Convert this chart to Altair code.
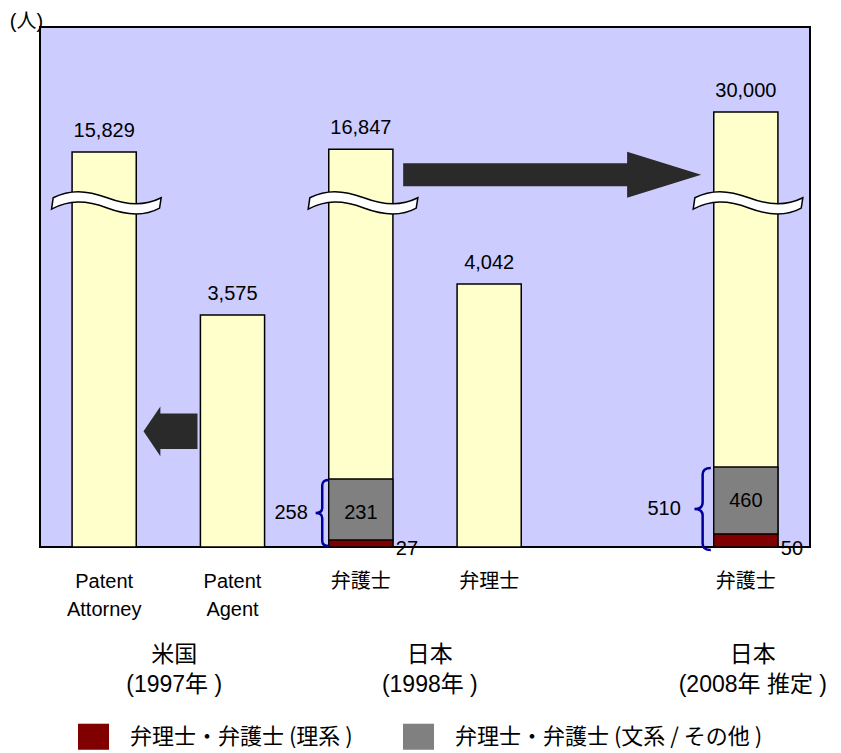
import altair as alt
import pandas as pd

# ---------------------------------------------------------------- data
# x slots (one empty slot keeps the 2008 bar apart from the 1998 pair)
slots = ["us_attorney", "us_agent", "jp98_bengoshi", "jp98_benrishi", "spacer", "jp08_bengoshi"]

bar_slots = ["us_attorney", "us_agent", "jp98_bengoshi", "jp98_benrishi", "jp08_bengoshi"]
bar_labels = ["Patent\nAttorney", "Patent\nAgent", "弁護士", "弁理士", "弁護士"]
headcounts = [15829, 3575, 16847, 4042, 30000]

# 弁護士 who are also registered as 弁理士, by background
dual_slots = ["jp98_bengoshi", "jp08_bengoshi"]
dual_science = [27, 50]
dual_humanities = [231, 460]
kinds = ["弁理士・弁護士 (理系 )", "弁理士・弁護士 (文系 / その他 )"]

broken_slots = ["us_attorney", "jp98_bengoshi", "jp08_bengoshi"]

group_titles = ["米国\n(1997年 )", "日本\n(1998年 )", "日本\n(2008年 推定 )"]
group_slots = ["us_attorney", "jp98_bengoshi", "jp08_bengoshi"]

# ---------------------------------------------------------------- styling
W, H = 770, 520
PLOT_BG = "#CCCCFF"
BAR_FILL = "#FFFFCC"
SCI_COLOR = "#800000"
HUM_COLOR = "#808080"
ARROW_COLOR = "#2a2a2a"
BRACE_COLOR = "#000099"
LATIN = "Liberation Sans, Noto Sans CJK JP"
CJK = "Noto Sans CJK JP"

# broken value axis: piecewise-linear, strongly compressed above the break
Y_STOPS = [0, 258, 510, 3575, 4042, 15829, 30000]
Y_RANGE = [520, 452, 440, 288, 257, 125, 85]
BREAK_AT = 11500

# custom symbol outlines
BREAK_SHAPE = ("M -1 -0.05 C -0.7 -0.2 -0.4 -0.2 0 -0.05 C 0.4 0.1 0.7 0.1 1 -0.05 "
               "L 0.97 0.14 C 0.7 0.29 0.4 0.29 0 0.14 C -0.4 -0.01 -0.7 -0.01 -1.03 0.16 Z")
RIGHT_ARROW = "M -1 -0.077 L 0.503 -0.077 L 0.503 -0.154 L 1 0 L 0.503 0.154 L 0.503 0.077 L -1 0.077 Z"
LEFT_ARROW = "M 1 -0.66 L -0.375 -0.66 L -0.375 -0.92 L -1 0 L -0.375 0.92 L -0.375 0.66 L 1 0.66 Z"
BRACE = ("M 0 0 C -0.12 0 -0.2 0.04 -0.2 0.16 L -0.2 0.84 C -0.2 0.95 -0.27 1 -0.4 1 "
         "C -0.27 1 -0.2 1.05 -0.2 1.16 L -0.2 1.84 C -0.2 1.96 -0.12 2 0 2")
LEGEND_RECT = "M -1 -0.84 L 1 -0.84 L 1 0.84 L -1 0.84 Z"

# ---------------------------------------------------------------- encodings
x_enc = alt.X("slot:N", axis=None,
              scale=alt.Scale(domain=slots, paddingInner=0.5, paddingOuter=0.25))
y_scale = alt.Scale(domain=Y_STOPS, range=Y_RANGE, zero=False, nice=False)
Y_AXIS = alt.Axis(title="(人)", titleAngle=0, titleAlign="center", titleBaseline="alphabetic",
                  titleX=-14, titleY=0, titleFontSize=20, titleFontWeight="normal",
                  titleFont=LATIN, titleColor="black",
                  labels=False, ticks=False, domain=False, grid=False)


def y_field(name):
    return alt.Y(f"{name}:Q", scale=y_scale, axis=Y_AXIS)


def y_at(value):
    return alt.YDatum(value, type="quantitative", scale=y_scale, axis=Y_AXIS)


bars_df = pd.DataFrame({"slot": bar_slots, "label": bar_labels, "total": headcounts})
dual_df = pd.DataFrame({"slot": dual_slots, "science": dual_science, "humanities": dual_humanities})
dual_df["total"] = dual_df["science"] + dual_df["humanities"]

seg_rows = []
for s, sci, hum in zip(dual_slots, dual_science, dual_humanities):
    seg_rows.append({"slot": s, "kind": kinds[0], "lo": 0, "hi": sci})
    seg_rows.append({"slot": s, "kind": kinds[1], "lo": sci, "hi": sci + hum})
seg_df = pd.DataFrame(seg_rows)

# ---------------------------------------------------------------- layers
bars = alt.Chart(bars_df).mark_bar(fill=BAR_FILL, stroke="black", strokeWidth=1.5).encode(
    x=x_enc, y=y_field("total"), y2=alt.datum(0))

segments = alt.Chart(seg_df).mark_bar(stroke="black", strokeWidth=1.3).encode(
    x=x_enc, y=y_field("hi"), y2="lo",
    color=alt.Color("kind:N", scale=alt.Scale(domain=kinds, range=[SCI_COLOR, HUM_COLOR]),
                    legend=alt.Legend(title=None, orient="none", legendX=38, legendY=694,
                                      direction="horizontal", symbolType=LEGEND_RECT,
                                      symbolSize=961, symbolStrokeWidth=0,
                                      labelFont=CJK, labelFontSize=22, labelColor="black",
                                      labelOffset=21, labelLimit=600, columnPadding=50)))

breaks = alt.Chart(pd.DataFrame({"slot": broken_slots})).mark_point(
    shape=BREAK_SHAPE, size=108 ** 2, filled=True, fill="white", stroke="black",
    strokeWidth=1.5, opacity=1, xOffset=3).encode(x=x_enc, y=y_at(BREAK_AT))

big_arrow = alt.Chart(pd.DataFrame({"slot": ["jp98_benrishi"]})).mark_point(
    shape=RIGHT_ARROW, size=298 ** 2, filled=True, fill=ARROW_COLOR, strokeWidth=0,
    opacity=1, xOffset=63).encode(x=x_enc, y=y_at(13800))

small_arrow = alt.Chart(pd.DataFrame({"slot": ["us_agent"]})).mark_point(
    shape=LEFT_ARROW, size=54 ** 2, filled=True, fill=ARROW_COLOR, strokeWidth=0,
    opacity=1, xOffset=-62).encode(x=x_enc, y=y_at(1230))

value_labels = alt.Chart(bars_df).mark_text(
    baseline="alphabetic", dy=-15, fontSize=20, font=LATIN, color="black").encode(
    x=x_enc, y=y_field("total"), text=alt.Text("total:Q", format=","))

category_labels = alt.Chart(bars_df).mark_text(
    baseline="top", align="center", dy=25, fontSize=20, lineHeight=28, lineBreak="\n",
    font=LATIN, color="black").encode(x=x_enc, y=y_at(0), text="label:N")

hum_labels = alt.Chart(dual_df).mark_text(
    baseline="middle", dy=34, fontSize=20, font=LATIN, color="black").encode(
    x=x_enc, y=y_field("total"), text="humanities:Q")

sci_labels = alt.Chart(dual_df).mark_text(
    baseline="middle", align="left", dx=35, dy=2, fontSize=20, font=LATIN, color="black").encode(
    x=x_enc, y=y_at(0), text="science:Q")

# braces spanning the 弁理士・弁護士 stack, with its total on the left
brace_px = [66, 82]
brace_dx = [-32, -35]
total_dx = [-53, -65]
brace_layers = []
for i in range(len(dual_slots)):
    one = dual_df.iloc[[i]]
    brace_layers.append(alt.Chart(one).mark_point(
        shape=BRACE, size=brace_px[i] ** 2, filled=False, stroke=BRACE_COLOR,
        strokeWidth=2.5, opacity=1, xOffset=brace_dx[i], yOffset=1).encode(
        x=x_enc, y=y_field("total")))
    brace_layers.append(alt.Chart(one).mark_text(
        align="right", baseline="middle", dx=total_dx[i], dy=brace_px[i] / 2 + 1,
        fontSize=20, font=LATIN, color="black").encode(
        x=x_enc, y=y_field("total"), text="total:Q"))

# country / year captions under each group
group_dx = [70, 69, 7]
group_layers = []
for title, slot, dx in zip(group_titles, group_slots, group_dx):
    group_layers.append(alt.Chart(pd.DataFrame({"slot": [slot], "title": [title]})).mark_text(
        baseline="top", align="center", dx=dx, dy=97, fontSize=23, lineHeight=30,
        lineBreak="\n", font=LATIN, color="black").encode(
        x=x_enc, y=y_at(0), text="title:N"))

chart = alt.layer(
    bars, segments, breaks, big_arrow, small_arrow,
    *brace_layers, value_labels, category_labels, hum_labels, sci_labels, *group_layers
).properties(
    width=W, height=H,
    autosize=alt.AutoSizeParams(type="none"),
    padding={"left": 40, "top": 27, "right": 31, "bottom": 206},
).configure_view(fill=PLOT_BG, stroke="black", strokeWidth=2)

chart.save("out.html", embed_options={"renderer": "svg", "actions": False})
